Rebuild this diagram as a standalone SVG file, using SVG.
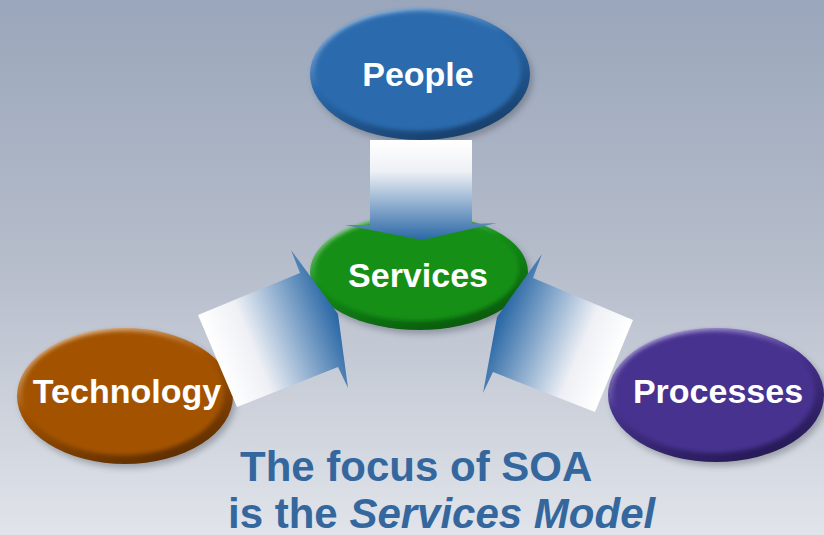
<svg xmlns="http://www.w3.org/2000/svg" width="824" height="535" viewBox="0 0 824 535">
<defs>
<linearGradient id="bg" x1="0" y1="0" x2="0" y2="1">
<stop offset="0" stop-color="#9aa6bb"/>
<stop offset="0.5" stop-color="#b6bdcb"/>
<stop offset="1" stop-color="#e1e4ea"/>
</linearGradient>
<filter id="soft" x="-10%" y="-10%" width="120%" height="120%"><feGaussianBlur stdDeviation="2.2"/></filter>
<filter id="shadow" x="-20%" y="-20%" width="140%" height="140%"><feGaussianBlur stdDeviation="3"/></filter>
<linearGradient id="rimBlue" x1="0.25" y1="0" x2="0.75" y2="1"><stop offset="0" stop-color="#9cbde0"/><stop offset="0.4" stop-color="#2a6aad"/><stop offset="1" stop-color="#163c66"/></linearGradient>
<linearGradient id="rimGreen" x1="0.25" y1="0" x2="0.75" y2="1"><stop offset="0" stop-color="#a6d8a6"/><stop offset="0.4" stop-color="#138f18"/><stop offset="1" stop-color="#0a560d"/></linearGradient>
<linearGradient id="rimBrown" x1="0.25" y1="0" x2="0.75" y2="1"><stop offset="0" stop-color="#e6c09a"/><stop offset="0.4" stop-color="#a35300"/><stop offset="1" stop-color="#5a2c00"/></linearGradient>
<linearGradient id="rimPurple" x1="0.25" y1="0" x2="0.75" y2="1"><stop offset="0" stop-color="#b2a6dc"/><stop offset="0.4" stop-color="#47338f"/><stop offset="1" stop-color="#241852"/></linearGradient>
<linearGradient id="arTop" gradientUnits="userSpaceOnUse" x1="0" y1="142" x2="0" y2="240"><stop offset="0" stop-color="#ffffff"/><stop offset="0.3" stop-color="#eef0f5"/><stop offset="1" stop-color="#2a68a6"/></linearGradient>
<linearGradient id="arLeft" gradientUnits="userSpaceOnUse" x1="217" y1="361" x2="336" y2="313"><stop offset="0" stop-color="#ffffff"/><stop offset="0.3" stop-color="#eef0f5"/><stop offset="1" stop-color="#2a68a6"/></linearGradient>
<linearGradient id="arRight" gradientUnits="userSpaceOnUse" x1="614" y1="366" x2="499" y2="318"><stop offset="0" stop-color="#ffffff"/><stop offset="0.3" stop-color="#eef0f5"/><stop offset="1" stop-color="#2a68a6"/></linearGradient>
<style>
.lbl{font-family:"Liberation Sans",Arial,sans-serif;font-weight:bold;font-size:34px;fill:#ffffff;text-anchor:middle}
.cap{font-family:"Liberation Sans",Arial,sans-serif;font-weight:bold;font-size:42px;fill:#34679e}
.sh{fill:#3a3f4a;opacity:0.35}
</style>
</defs>
<rect x="0" y="0" width="824" height="535" fill="url(#bg)"/>

<g id="services">
<ellipse class="sh" cx="422" cy="276" rx="109" ry="58" filter="url(#shadow)"/>
<ellipse cx="419" cy="272" rx="109" ry="58" fill="url(#rimGreen)"/>
<ellipse cx="417" cy="269" rx="102" ry="52" fill="#128f18" filter="url(#soft)"/>
<text class="lbl" x="418" y="287">Services</text>
</g>

<g id="people">
<ellipse class="sh" cx="423" cy="78" rx="110" ry="66" filter="url(#shadow)"/>
<ellipse cx="420" cy="74" rx="110" ry="66" fill="url(#rimBlue)"/>
<ellipse cx="418" cy="71" rx="103" ry="60" fill="#2a6aad" filter="url(#soft)"/>
<text class="lbl" x="418" y="86">People</text>
</g>

<g id="technology">
<ellipse class="sh" cx="128" cy="400" rx="108" ry="68" filter="url(#shadow)"/>
<ellipse cx="125" cy="396" rx="108" ry="68" fill="url(#rimBrown)"/>
<ellipse cx="123" cy="393" rx="101" ry="62" fill="#a35300" filter="url(#soft)"/>
<text class="lbl" x="127" y="403">Technology</text>
</g>

<g id="processes">
<ellipse class="sh" cx="719" cy="399" rx="108" ry="67" filter="url(#shadow)"/>
<ellipse cx="716" cy="395" rx="108" ry="67" fill="url(#rimPurple)"/>
<ellipse cx="714" cy="392" rx="101" ry="61" fill="#47338f" filter="url(#soft)"/>
<text class="lbl" x="718" y="403">Processes</text>
</g>

<g id="connectors">
<polygon points="370,140 472,140 472,224 497,223 422,240 345,225 370,225" fill="url(#arTop)"/>
<polygon points="198,315 300,273 291,250 338,314 348,388 338,367 237,407" fill="url(#arLeft)"/>
<polygon points="633,320 595,412 493,372 483,393 497,317 542,254 533,278" fill="url(#arRight)"/>
</g>

<g id="caption">
<text class="cap" x="240" y="481">The focus of SOA</text>
<text class="cap" x="228" y="528">is the <tspan font-style="italic">Services Model</tspan></text>
</g>
</svg>
